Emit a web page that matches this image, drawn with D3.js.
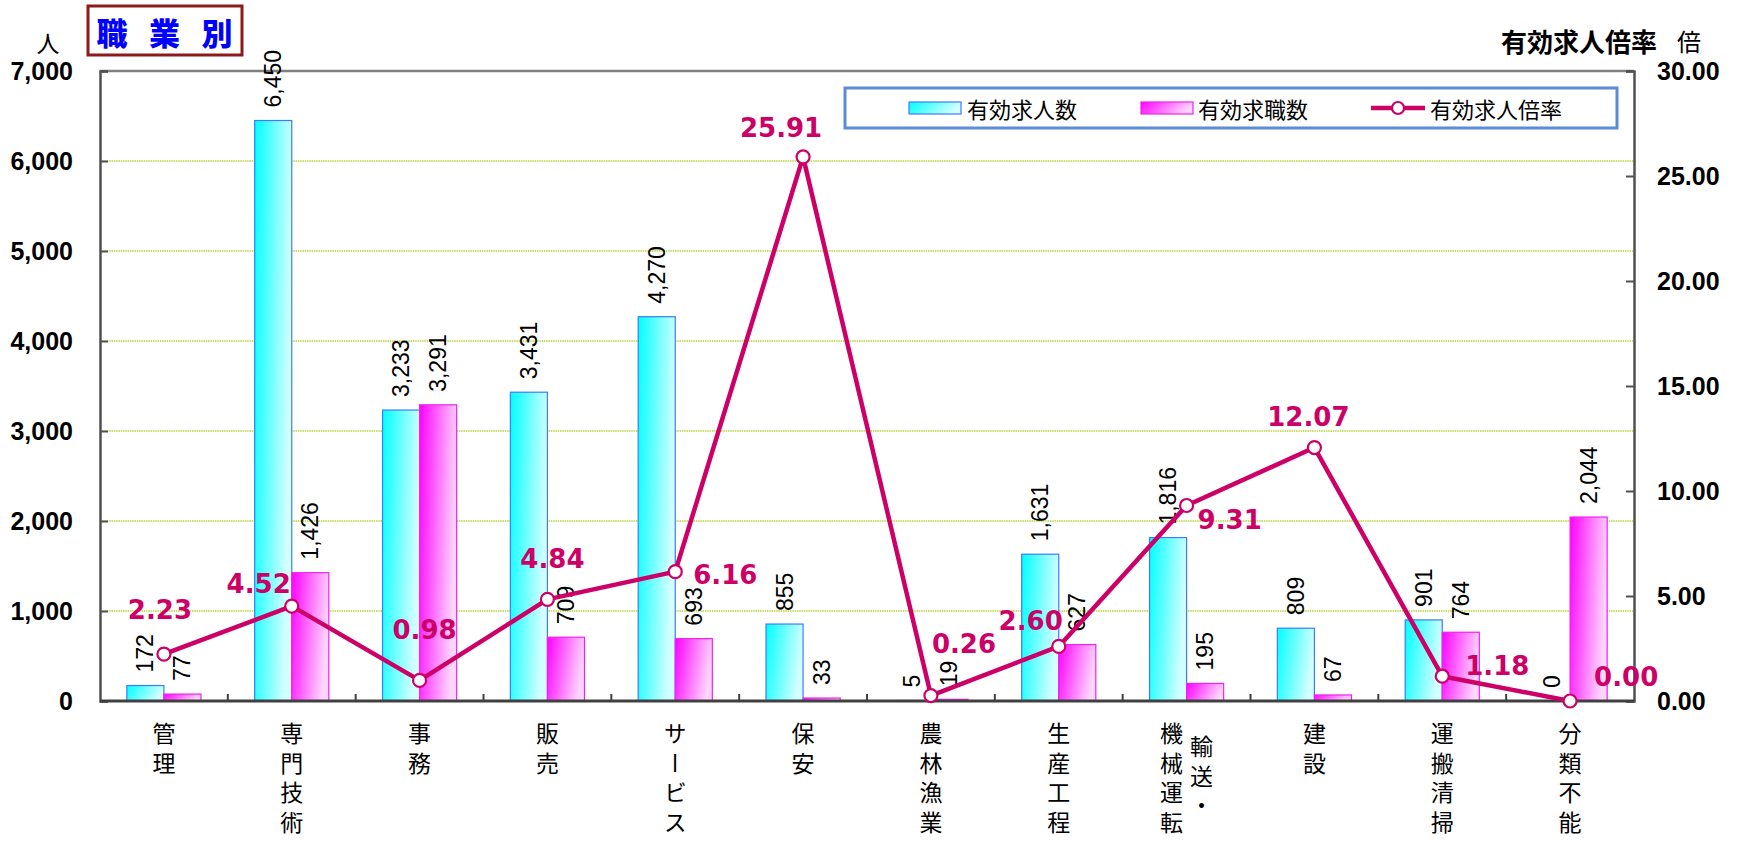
<!DOCTYPE html>
<html>
<head>
<meta charset="utf-8">
<script src="https://cdn.jsdelivr.net/npm/d3@7"></script>
<style>
  html, body { margin: 0; padding: 0; background: #fff; }
  svg { display: block; }
</style>
</head>
<body>
<svg id="chart" width="1745" height="842"></svg>
<script>
// ---- data ----
const categories = ["管理","専門技術","事務","販売","サービス","保安","農林漁業","生産工程","輸送・機械運転","建設","運搬清掃","分類不能"];
// vertical label columns (right-to-left)
const categoryColumns = [["管理"],["専門技術"],["事務"],["販売"],["サービス"],["保安"],["農林漁業"],["生産工程"],["輸送・","機械運転"],["建設"],["運搬清掃"],["分類不能"]];
const jobOffers   = [172, 6450, 3233, 3431, 4270, 855, 5, 1631, 1816, 809, 901, 0];      // 有効求人数
const jobSeekers  = [77, 1426, 3291, 709, 693, 33, 19, 627, 195, 67, 764, 2044];        // 有効求職数
const openingRatio = [2.23, 4.52, 0.98, 4.84, 6.16, 25.91, 0.26, 2.60, 9.31, 12.07, 1.18, 0.00]; // 有効求人倍率
const leftTicks  = [0, 1000, 2000, 3000, 4000, 5000, 6000, 7000];
const rightTicks = [0, 5, 10, 15, 20, 25, 30];
const seriesNames = ["有効求人数", "有効求職数", "有効求人倍率"];

// label placement for the ratio labels (relative to the point)
const ratioLabelPlacement = [
  {a:"middle", dx:-4,  dy:-35},
  {a:"end",    dx:-1,  dy:-13},
  {a:"middle", dx:5,   dy:-41},
  {a:"middle", dx:5,   dy:-31},
  {a:"start",  dx:18,  dy:12},
  {a:"middle", dx:-22, dy:-20},
  {a:"start",  dx:1,   dy:-43},
  {a:"end",    dx:4,   dy:-16},
  {a:"start",  dx:11,  dy:24},
  {a:"middle", dx:-6,  dy:-22},
  {a:"start",  dx:23,  dy:-1},
  {a:"start",  dx:24,  dy:-15}
];

// ---- layout ----
const L = 100, R = 1634, T = 71, B = 701;
const svg = d3.select("#chart");
const CJK = "'Noto Sans CJK JP','Noto Sans CJK SC',sans-serif";
const NUM = "'Liberation Sans',Arial,sans-serif";
const RATE_COLOR = "#cc0066";

const y = d3.scaleLinear().domain([0, 7000]).range([B, T]);
const y2 = d3.scaleLinear().domain([0, 30]).range([B, T]);
const x0 = d3.scaleBand().domain(categories).range([L, R]).paddingInner(0.42).paddingOuter(0.21);
const x1 = d3.scaleBand().domain(["offers", "seekers"]).range([0, x0.bandwidth()]);

// gradients
const defs = svg.append("defs");
function grad(id, c0, c1) {
  const g = defs.append("linearGradient").attr("id", id)
    .attr("x1", 0).attr("y1", 0).attr("x2", 1).attr("y2", 0.25);
  g.append("stop").attr("offset", "0%").attr("stop-color", c0);
  g.append("stop").attr("offset", "100%").attr("stop-color", c1);
}
grad("gCyan", "#00ffff", "#d4ffff");
grad("gMag", "#ff00ff", "#ffd4ff");

// gridlines
svg.append("g").selectAll("line").data(leftTicks.filter(d => d > 0 && d < 7000)).join("line")
  .attr("x1", L).attr("x2", R).attr("y1", d => y(d)).attr("y2", d => y(d))
  .attr("stroke", "#b9d33c").attr("stroke-width", 1.5).attr("stroke-dasharray", "1.5,0.8");

// top border
svg.append("line").attr("x1", L).attr("x2", R).attr("y1", T).attr("y2", T)
  .attr("stroke", "#7f7f7f").attr("stroke-width", 2.5);

// left axis
const axL = svg.append("g").attr("transform", `translate(${L},0)`)
  .call(d3.axisLeft(y).tickValues(leftTicks).tickSize(-8).tickPadding(27).tickFormat(d3.format(",")));
axL.select(".domain").attr("stroke", "#505050").attr("stroke-width", 2.5);
axL.selectAll(".tick line").attr("stroke", "#505050").attr("stroke-width", 2);
axL.selectAll("text").attr("font-family", NUM).attr("font-weight", "bold").attr("font-size", 25).attr("fill", "#000");

// right axis
const axR = svg.append("g").attr("transform", `translate(${R},0)`)
  .call(d3.axisRight(y2).tickValues(rightTicks).tickSize(-8).tickPadding(23).tickFormat(d3.format(".2f")));
axR.select(".domain").attr("stroke", "#505050").attr("stroke-width", 2.5);
axR.selectAll(".tick line").attr("stroke", "#505050").attr("stroke-width", 2);
axR.selectAll("text").attr("font-family", NUM).attr("font-weight", "bold").attr("font-size", 25).attr("fill", "#000");

// bars
const rows = categories.map((c, i) => ({c, i, offers: jobOffers[i], seekers: jobSeekers[i]}));
const gBars = svg.append("g");
rows.forEach(r => {
  gBars.append("rect")
    .attr("x", x0(r.c) + x1("offers")).attr("width", x1.bandwidth())
    .attr("y", y(r.offers)).attr("height", B - y(r.offers))
    .attr("fill", "url(#gCyan)").attr("stroke", "#3a7cff").attr("stroke-width", 1.2);
  gBars.append("rect")
    .attr("x", x0(r.c) + x1("seekers")).attr("width", x1.bandwidth())
    .attr("y", y(r.seekers)).attr("height", B - y(r.seekers))
    .attr("fill", "url(#gMag)").attr("stroke", "#ee22ee").attr("stroke-width", 1.2);
});

// bottom axis + ticks between categories
const gap = (x0.step() - x0.bandwidth()) / 2;
const bounds = categories.slice(1).map(c => x0(c) - gap);
svg.append("g").selectAll("line").data(bounds).join("line")
  .attr("x1", d => d).attr("x2", d => d).attr("y1", B).attr("y2", B - 7)
  .attr("stroke", "#404040").attr("stroke-width", 2);
svg.append("line").attr("x1", L).attr("x2", R).attr("y1", B).attr("y2", B)
  .attr("stroke", "#404040").attr("stroke-width", 3);

// bar value labels
const fmt = d3.format(",");
const gVal = svg.append("g").attr("font-family", NUM).attr("font-size", 23).attr("fill", "#000");
rows.forEach(r => {
  [["offers", r.offers], ["seekers", r.seekers]].forEach(([k, v]) => {
    const cx = x0(r.c) + x1(k) + x1.bandwidth() / 2;
    gVal.append("text")
      .attr("transform", `translate(${cx},${y(v) - 13}) rotate(-90)`)
      .attr("text-anchor", "start").attr("dominant-baseline", "central")
      .text(fmt(v));
  });
});

// ratio line
const cxOf = i => x0(categories[i]) + x0.bandwidth() / 2;
const line = d3.line().x((d, i) => cxOf(i)).y(d => y2(d));
svg.append("path").datum(openingRatio).attr("d", line)
  .attr("fill", "none").attr("stroke", RATE_COLOR).attr("stroke-width", 4.5).attr("stroke-linejoin", "round");
svg.append("g").selectAll("circle").data(openingRatio).join("circle")
  .attr("cx", (d, i) => cxOf(i)).attr("cy", d => y2(d)).attr("r", 6.5)
  .attr("fill", "#fff").attr("stroke", RATE_COLOR).attr("stroke-width", 2.2);

// ratio labels
svg.append("g").selectAll("text").data(openingRatio).join("text")
  .attr("x", (d, i) => cxOf(i) + ratioLabelPlacement[i].dx)
  .attr("y", (d, i) => y2(d) + ratioLabelPlacement[i].dy)
  .attr("text-anchor", (d, i) => ratioLabelPlacement[i].a)
  .attr("font-family", "'DejaVu Sans',Verdana,sans-serif").attr("font-weight", "bold")
  .attr("font-size", 26).attr("fill", RATE_COLOR)
  .text(d => d.toFixed(2));

// category labels (vertical writing)
const gCat = svg.append("g").attr("font-family", CJK).attr("font-size", 23).attr("fill", "#000");
const colTop = 722;
categoryColumns.forEach((cols, i) => {
  const cx = cxOf(i);
  cols.forEach((col, j) => {
    const colX = cols.length === 1 ? cx : (j === 0 ? cx + 15 : cx - 15);
    const top = cols.length === 1 ? colTop : (j === 0 ? colTop + 13 : colTop);
    gCat.append("text")
      .attr("x", colX).attr("y", top)
      .style("writing-mode", "vertical-rl")
      .style("text-orientation", "upright")
      .style("letter-spacing", "6.5px")
      .text(col);
  });
});

// unit labels
svg.append("text").attr("x", 48).attr("y", 42).attr("text-anchor", "middle").attr("dominant-baseline", "central")
  .attr("font-family", CJK).attr("font-size", 23).text("人");
svg.append("text").attr("x", 1657).attr("y", 40).attr("text-anchor", "end").attr("dominant-baseline", "central")
  .attr("font-family", CJK).attr("font-weight", "bold").attr("font-size", 26).text("有効求人倍率");
svg.append("text").attr("x", 1689).attr("y", 40).attr("text-anchor", "middle").attr("dominant-baseline", "central")
  .attr("font-family", CJK).attr("font-size", 24).text("倍");

// title box
svg.append("rect").attr("x", 88).attr("y", 6).attr("width", 154).attr("height", 49)
  .attr("fill", "#fff").attr("stroke", "#8b1a1a").attr("stroke-width", 3);
["職","業","別"].forEach((ch, k) => {
  svg.append("text").attr("x", 112 + k * 52.5).attr("y", 31)
    .attr("text-anchor", "middle").attr("dominant-baseline", "central")
    .attr("font-family", CJK).attr("font-weight", "900").attr("font-size", 31).attr("fill", "#0000ff")
    .text(ch);
});

// legend
const lg = svg.append("g");
lg.append("rect").attr("x", 845).attr("y", 88).attr("width", 772).attr("height", 40)
  .attr("fill", "#fff").attr("stroke", "#5b8bd5").attr("stroke-width", 3);
const ly = 108;
lg.append("rect").attr("x", 909).attr("y", ly - 6).attr("width", 52).attr("height", 12)
  .attr("fill", "url(#gCyan)").attr("stroke", "#3a7cff").attr("stroke-width", 1.2);
lg.append("rect").attr("x", 1141).attr("y", ly - 6).attr("width", 52).attr("height", 12)
  .attr("fill", "url(#gMag)").attr("stroke", "#ee22ee").attr("stroke-width", 1.2);
lg.append("line").attr("x1", 1371).attr("x2", 1425).attr("y1", ly).attr("y2", ly)
  .attr("stroke", RATE_COLOR).attr("stroke-width", 4.5);
lg.append("circle").attr("cx", 1398).attr("cy", ly).attr("r", 6)
  .attr("fill", "#fff").attr("stroke", RATE_COLOR).attr("stroke-width", 2.2);
[[967, seriesNames[0]], [1198, seriesNames[1]], [1430, seriesNames[2]]].forEach(([x, s]) => {
  lg.append("text").attr("x", x).attr("y", ly).attr("dominant-baseline", "central")
    .attr("font-family", CJK).attr("font-size", 22).attr("fill", "#000").text(s);
});
</script>
</body>
</html>
